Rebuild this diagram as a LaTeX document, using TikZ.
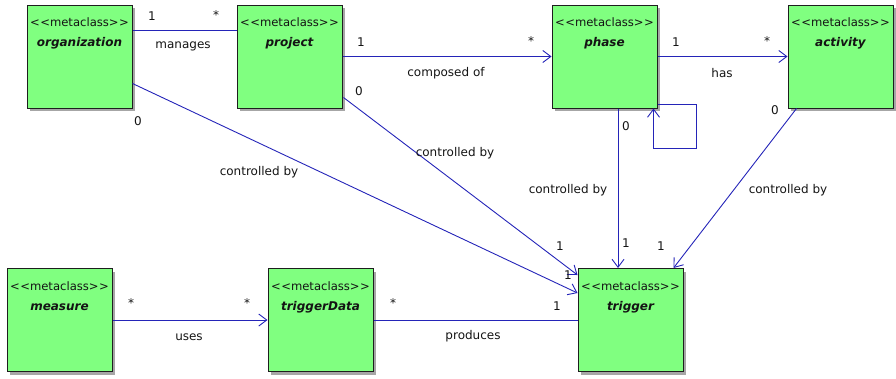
\documentclass[tikz,border=0pt]{standalone}
\usepackage{fontspec}
\setmainfont{DejaVu Sans}[Ligatures=TeXOff]
\usetikzlibrary{arrows.meta,calc,shadows}
\definecolor{clsfill}{RGB}{128,255,128}
\definecolor{clsdraw}{RGB}{30,30,30}
\definecolor{assoc}{RGB}{36,36,184}
\definecolor{txt}{RGB}{20,20,20}
\tikzset{
  cls/.style={rectangle, draw=clsdraw, line width=1pt, fill=clsfill,
    minimum width=105pt, minimum height=103pt, inner sep=0pt,
    drop shadow={shadow xshift=3pt, shadow yshift=-3pt, fill=black!35, opacity=1}},
  stereo/.style={font=\fontsize{11.6}{13}\selectfont, text=txt, inner sep=0pt},
  clsname/.style={font=\fontsize{12}{13}\selectfont\bfseries\itshape, text=txt, inner sep=0pt},
  lbl/.style={font=\fontsize{12}{13}\selectfont, text=txt, inner sep=0pt},
  assocline/.style={draw=assoc, line width=0.9pt},
  navig/.style={assocline, -{Straight Barb[length=8pt,width=12pt,line width=0.9pt]}},
}
\newcommand{\metaclassbox}[3]{%
  \node[cls] (#1) at (#2) {};
  \node[stereo] (#1-st) at ($(#1.north)+(0,18)$) {<\kern0.5pt<metaclass>\kern0.5pt>};
  \node[clsname] (#1-nm) at ($(#1.north)+(0,39)$) {#3};
}
\begin{document}
\begin{tikzpicture}[x=1pt,y=-1pt]
\useasboundingbox (0,0) rectangle (896,378);

% classes
\metaclassbox{org}{79.5,56.5}{organization}
\metaclassbox{proj}{289.5,56.5}{project}
\metaclassbox{phase}{604.5,56.5}{phase}
\metaclassbox{act}{840.5,56.5}{activity}
\metaclassbox{meas}{59.5,320}{measure}
\metaclassbox{tdata}{320.5,320}{triggerData}
\metaclassbox{trig}{630.5,320}{trigger}

% associations along the top row
\draw[assocline] ($(org.north east)+(0,26)$) -- ($(proj.north west)+(0,26)$);
\draw[navig] (proj.east) -- (phase.west);
\draw[navig] (phase.east) -- (act.west);

% self association of phase
\draw[navig] ($(phase.south east)+(0,-4)$) -- ++(39,0) -- ++(0,44) -- ++(-43,0) -- ++(0,-40);

% controlled by
\draw[navig] ($(org.south east)+(0,-25)$) -- ($(trig.north west)+(0,25)$);
\draw[navig] ($(proj.south east)+(1,-11)$) -- ($(trig.north west)+(0,7)$);
\draw[navig] ($(phase.south)+(13.5,0)$) -- ($(trig.north)+(-12.5,0)$);
\draw[navig] ($(act.south west)+(9,0)$) -- ($(trig.north east)+(-10,0)$);

% bottom row
\draw[navig] (meas.east) -- (tdata.west);
\draw[assocline] (tdata.east) -- (trig.west);

% association names and multiplicities
\node[lbl] (l1) at (152,16) {1};
\node[lbl] (l2) at (216,15) {*};
\node[lbl] (l3) at (183,46) {manages};

\node[lbl] (l4) at (361,42) {1};
\node[lbl] (l5) at (531,41) {*};
\node[lbl] (l6) at (446,73) {composed of};

\node[lbl] (l7) at (676,42) {1};
\node[lbl] (l8) at (767,41) {*};
\node[lbl] (l9) at (722,73) {has};

\node[lbl] (l10) at (138,121) {0};
\node[lbl] (l11) at (259,172) {controlled by};
\node[lbl] (l12) at (568,275) {1};

\node[lbl] (l13) at (359,91) {0};
\node[lbl] (l14) at (455,153) {controlled by};
\node[lbl] (l15) at (560,246) {1};

\node[lbl] (l16) at (626,126) {0};
\node[lbl] (l17) at (568,190) {controlled by};
\node[lbl] (l18) at (626,243) {1};

\node[lbl] (l19) at (775,110) {0};
\node[lbl] (l20) at (788,190) {controlled by};
\node[lbl] (l21) at (661,246) {1};

\node[lbl] (l22) at (131,303) {*};
\node[lbl] (l23) at (247,303) {*};
\node[lbl] (l24) at (189,337) {uses};

\node[lbl] (l25) at (393,303) {*};
\node[lbl] (l26) at (473,336) {produces};
\node[lbl] (l27) at (557,306) {1};
\end{tikzpicture}
\end{document}
